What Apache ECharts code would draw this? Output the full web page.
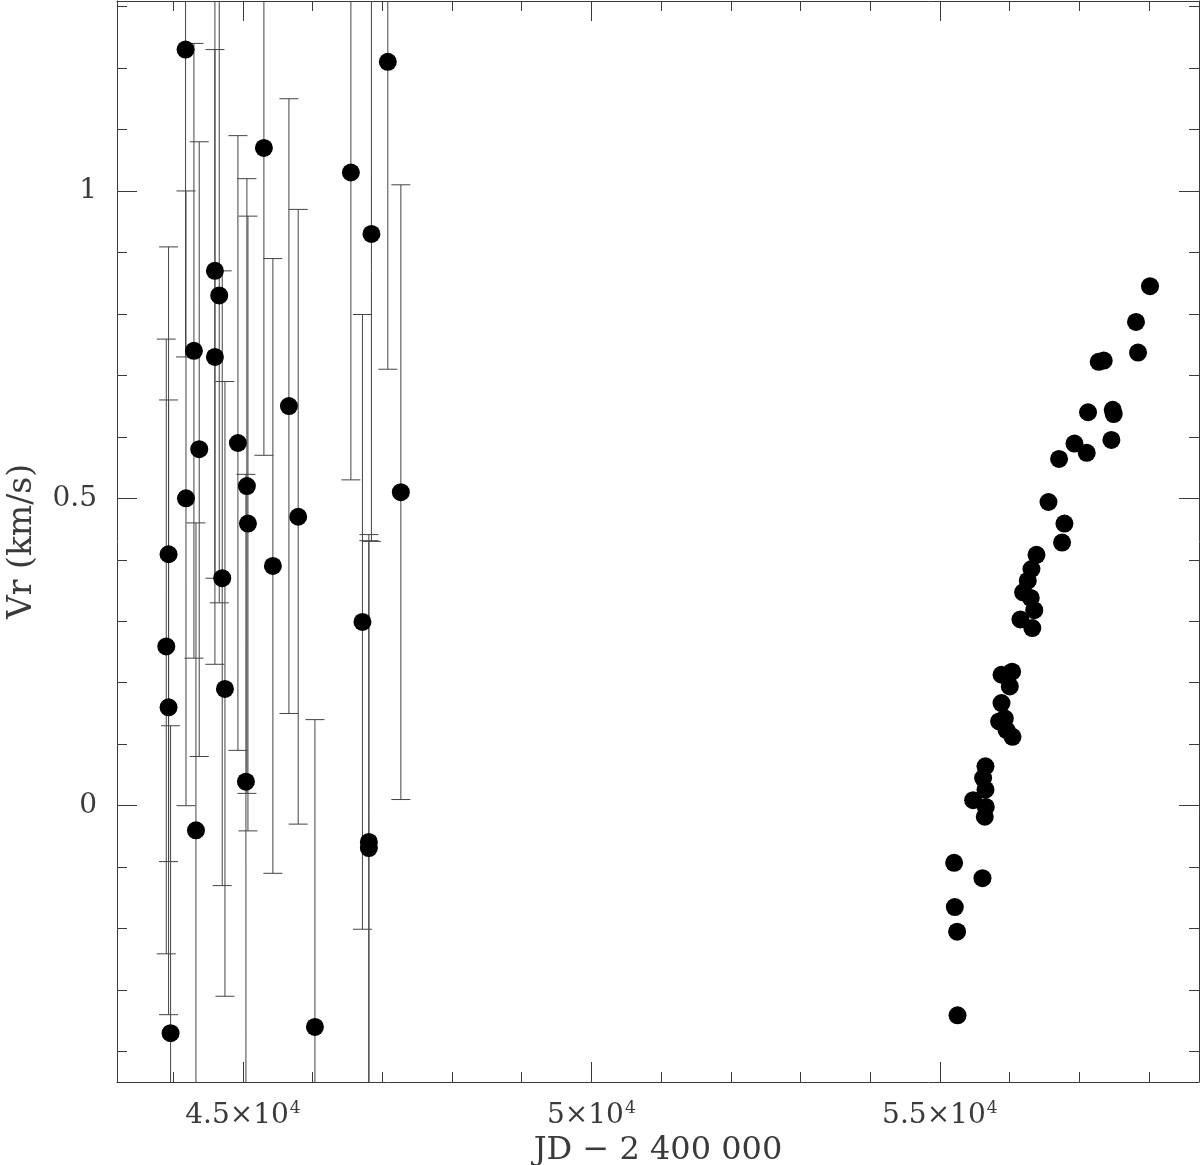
<!DOCTYPE html>
<html>
<head>
<meta charset="utf-8">
<script src="https://cdn.jsdelivr.net/npm/echarts@6/dist/echarts.min.js"></script>
<style>
html,body{margin:0;padding:0;background:#fff;}
#chart{width:1200px;height:1165px;}
</style>
</head>
<body>
<div id="chart"></div>
<script>
// ---- Data (JD - 2400000, Vr km/s) ----
// Older measurements with error bars (±err)
const oldJD = [43900, 43933, 43933, 43962, 44177, 44183, 44297, 44326, 44373, 44598,
  44598, 44660, 44703, 44742, 44928, 45043, 45057, 45072, 45301, 45430,
  45660, 45793, 46033, 46549, 46715, 46807, 46807, 46844, 47079, 47266];
const oldVr = [0.259, 0.409, 0.160, -0.370, 1.230, 0.500, 0.740, -0.040, 0.580, 0.870,
  0.730, 0.830, 0.370, 0.190, 0.590, 0.039, 0.520, 0.459, 1.070, 0.390,
  0.650, 0.470, -0.360, 1.030, 0.299, -0.059, -0.069, 0.930, 1.210, 0.510];
const oldErr = [0.5, 0.5, 0.5, 0.5, 0.5, 0.5, 0.5, 0.5, 0.5, 0.5,
  0.5, 0.5, 0.5, 0.5, 0.5, 0.5, 0.5, 0.5, 0.5, 0.5,
  0.5, 0.5, 0.5, 0.5, 0.5, 0.5, 0.5, 0.5, 0.5, 0.5];

// Recent high-precision measurements
const newJD = [55205, 55612, 55215, 55248, 55254,
  55655, 55621, 55655, 55478, 55660, 55645,
  55885, 56037, 56004, 55885, 55932, 55851, 55957, 56043,
  56387, 56315, 56262, 56195, 56305, 56355, 56157, 56327,
  56754, 56788, 56559, 56711, 57108, 56932, 57462, 57127, 57481, 57495,
  57280, 57352, 57844, 57815, 58016];
const newVr = [-0.093, -0.118, -0.165, -0.205, -0.341,
  0.064, 0.045, 0.026, 0.009, -0.002, -0.018,
  0.213, 0.218, 0.194, 0.167, 0.142, 0.137, 0.123, 0.112,
  0.408, 0.385, 0.366, 0.347, 0.338, 0.318, 0.303, 0.289,
  0.428, 0.459, 0.494, 0.564, 0.574, 0.589, 0.595, 0.640, 0.644, 0.637,
  0.722, 0.724, 0.737, 0.787, 0.845];

// ---- Axes / ticks ----
const xMin = 43193, xMax = 58719;
const yMin = -0.4495, yMax = 1.309;
const xMinorTicks = [44000, 45000, 46000, 47000, 48000, 49000, 50000, 51000, 52000, 53000, 54000, 55000, 56000, 57000, 58000];
const xMajorTicks = [45000, 50000, 55000];
const xTickLabels = ['4.5', '5', '5.5'];
const yMinorTicks = [-0.4, -0.3, -0.2, -0.1, 0, 0.1, 0.2, 0.3, 0.4, 0.5, 0.6, 0.7, 0.8, 0.9, 1.0, 1.1, 1.2, 1.3];
const yMajorTicks = [0, 0.5, 1];
const yTickLabels = ['0', '0.5', '1'];
const xTitle = 'JD \u2212 2 400 000';
const yTitle = 'Vr (km/s)';

const FONT = 'DejaVu Serif';
const LINE = '#3a3a3a';
const ERR = '#444';
const TXT = '#3a3a3a';

const oldData = oldJD.map((x, i) => [x, oldVr[i], oldErr[i]]);
const newData = newJD.map((x, i) => [x, newVr[i]]);

function xAxisDef(pos, ticks, len, showLine, showLabel, name) {
  return {
    type: 'value', position: pos, min: xMin, max: xMax,
    splitLine: {show: false},
    axisLine: {show: showLine, onZero: false, lineStyle: {color: LINE, width: 1}},
    axisTick: {show: true, inside: true, length: len, customValues: ticks, lineStyle: {color: LINE, width: 1}},
    axisLabel: showLabel ? {
      show: true, customValues: xMajorTicks, margin: 18,
      formatter: v => '{b|' + xTickLabels[xMajorTicks.indexOf(v)] + '\u00d710}{s|4}',
      rich: {
        b: {fontFamily: FONT, fontSize: 28, color: TXT, lineHeight: 32},
        s: {fontFamily: FONT, fontSize: 17, color: TXT, lineHeight: 17, verticalAlign: 'top', padding: [0, 0, 0, 1]}
      }
    } : {show: false},
    name: name || '', nameLocation: 'middle', nameGap: 49,
    nameTextStyle: {fontFamily: FONT, fontSize: 32, color: TXT}
  };
}
function yAxisDef(pos, ticks, len, showLine, showLabel, name) {
  return {
    type: 'value', position: pos, min: yMin, max: yMax,
    splitLine: {show: false},
    axisLine: {show: showLine, onZero: false, lineStyle: {color: LINE, width: 1}},
    axisTick: {show: true, inside: true, length: len, customValues: ticks, lineStyle: {color: LINE, width: 1}},
    axisLabel: showLabel ? {
      show: true, customValues: yMajorTicks, margin: 20,
      formatter: v => yTickLabels[yMajorTicks.indexOf(v)],
      fontFamily: FONT, fontSize: 28, color: TXT
    } : {show: false},
    name: name || '', nameLocation: 'middle', nameGap: 78,
    nameTextStyle: {fontFamily: FONT, fontSize: 33, color: TXT}
  };
}

const chart = echarts.init(document.getElementById('chart'), null, {renderer: 'canvas'});
chart.setOption({
  backgroundColor: '#fff',
  animation: false,
  grid: {left: 117, right: 1, top: 1, bottom: 83, containLabel: false, outerBoundsMode: 'none'},
  xAxis: [
    xAxisDef('bottom', xMinorTicks, 10, true, true, xTitle),
    xAxisDef('bottom', xMajorTicks, 20, false, false),
    xAxisDef('top', xMinorTicks, 10, true, false),
    xAxisDef('top', xMajorTicks, 20, false, false)
  ],
  yAxis: [
    yAxisDef('left', yMinorTicks, 10, true, true, yTitle),
    yAxisDef('left', yMajorTicks, 20, false, false),
    yAxisDef('right', yMinorTicks, 10, true, false),
    yAxisDef('right', yMajorTicks, 20, false, false)
  ],
  series: [
    {
      type: 'custom', xAxisIndex: 0, yAxisIndex: 0, data: oldData, z: 2,
      encode: {x: 0, y: 1},
      renderItem: function (params, api) {
        const x = api.value(0), y = api.value(1), e = api.value(2);
        const p1 = api.coord([x, y + e]);
        const p2 = api.coord([x, y - e]);
        const cs = params.coordSys;
        const top = cs.y, bot = cs.y + cs.height;
        const y1 = Math.max(p1[1], top), y2 = Math.min(p2[1], bot);
        const st = {stroke: ERR, lineWidth: 1};
        const hw = 9.5;
        const children = [{type: 'line', shape: {x1: p1[0], y1: y1, x2: p1[0], y2: y2}, style: st}];
        if (p1[1] >= top) children.push({type: 'line', shape: {x1: p1[0] - hw, y1: p1[1], x2: p1[0] + hw, y2: p1[1]}, style: st});
        if (p2[1] <= bot) children.push({type: 'line', shape: {x1: p2[0] - hw, y1: p2[1], x2: p2[0] + hw, y2: p2[1]}, style: st});
        return {type: 'group', children: children};
      }
    },
    {
      type: 'scatter', xAxisIndex: 0, yAxisIndex: 0, data: oldData.map(d => [d[0], d[1]]),
      symbol: 'circle', symbolSize: 18, itemStyle: {color: '#000', opacity: 1}, z: 3
    },
    {
      type: 'scatter', xAxisIndex: 0, yAxisIndex: 0, data: newData,
      symbol: 'circle', symbolSize: 18, itemStyle: {color: '#000', opacity: 1}, z: 3
    }
  ]
});
</script>
</body>
</html>
